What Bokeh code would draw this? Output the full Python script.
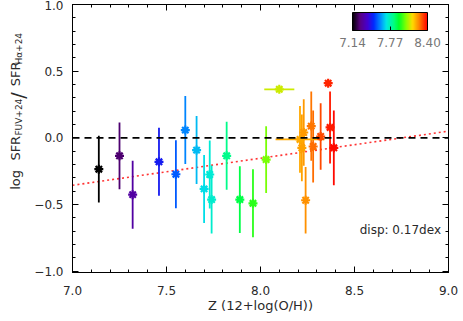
import math
import numpy as np
from bokeh.plotting import figure
from bokeh.layouts import row
from bokeh.models import (ColumnDataSource, LinearAxis, FixedTicker, Label, ColorBar,
                          LinearColorMapper, Span, PrintfTickFormatter, Range1d)
from bokeh.transform import linear_cmap
from bokeh.embed import file_html
from bokeh.resources import INLINE

# ---- data ----
metallicity = [7.14, 7.25, 7.32, 7.46, 7.55, 7.60, 7.66, 7.70, 7.73, 7.74, 7.82, 7.89, 7.96,
               8.03, 8.10, 8.21, 8.22, 8.23, 8.24, 8.27, 8.28, 8.32, 8.36, 8.37, 8.39]
log_ratio = [-0.235, -0.135, -0.426, -0.18, -0.273, 0.058, -0.092, -0.383, -0.275, -0.463,
             -0.135, -0.463, -0.491, -0.163, 0.364, -0.012, -0.075, 0.04, -0.468, 0.088,
             -0.065, 0.01, 0.41, 0.078, -0.075]
ratio_err = [0.25, 0.25, 0.255, 0.255, 0.255, 0.255, 0.255, 0.255, 0.255, 0.255,
             0.255, 0.25, 0.255, 0.25, 0.0, 0.25, 0.25, 0.25, 0.25, 0.26,
             0.27, 0.25, 0.0, 0.27, 0.28]
z_err = [0, 0, 0, 0, 0, 0, 0, 0, 0, 0, 0, 0, 0, 0, 0.08, 0.13, 0, 0, 0, 0, 0, 0, 0, 0, 0]
fit_z = [7.0, 9.0]
fit_ratio = [-0.356, 0.05]
x_ticks = [7.0, 7.5, 8.0, 8.5, 9.0]
x_tick_labels = ["7.0", "7.5", "8.0", "8.5", "9.0"]
y_ticks = [-1.0, -0.5, 0.0, 0.5, 1.0]
y_tick_labels = ["\u22121.0", "\u22120.5", "0.0", "0.5", "1.0"]
cbar_ticks = [7.14, 7.77, 8.40]
z_low, z_high = 7.14, 8.40
x_title = "Z (12+log(O/H))"
disp_text = "disp: 0.17dex"
# y title pieces: text, kind (main / sub / slash)
y_title_parts = [("log", "main"), ("SFR", "main"), ("FUV+24", "sub"), ("/", "slash"),
                 ("SFR", "main"), ("H\u03b1+24", "sub")]

# ---- colour table (black -> purple -> blue -> cyan -> green -> yellow -> red) ----
stops = [0.0, 0.1, 0.2, 0.28, 0.38, 0.45, 0.55, 0.62, 0.72, 0.8, 0.88, 1.0]
stop_rgb = [(0, 0, 0), (90, 0, 130), (70, 0, 210), (0, 40, 255), (0, 150, 255), (0, 230, 230),
            (0, 255, 130), (0, 255, 40), (140, 255, 0), (255, 220, 0), (255, 140, 0), (255, 0, 0)]
f = np.linspace(0, 1, 256)
chan = [np.interp(f, stops, [c[i] for c in stop_rgb]) for i in range(3)]
palette = ["#%02x%02x%02x" % (int(r), int(g), int(b)) for r, g, b in zip(*chan)]

src = ColumnDataSource(dict(
    z=metallicity, r=log_ratio,
    r_lo=[v - e for v, e in zip(log_ratio, ratio_err)],
    r_hi=[v + e for v, e in zip(log_ratio, ratio_err)],
    z_lo=[v - e for v, e in zip(metallicity, z_err)],
    z_hi=[v + e for v, e in zip(metallicity, z_err)],
))
cmap = linear_cmap("z", palette, z_low, z_high)

FONT = "DejaVu Sans"
TXT = "#2a2a2a"
LEFT_W = 30
W, H = 463, 321

p = figure(width=W - LEFT_W, height=H, x_range=(7.0, 9.0), y_range=(-1.01, 1.0),
           output_backend="svg", toolbar_location=None,
           min_border_left=72 - LEFT_W, min_border_right=15, min_border_top=4,
           min_border_bottom=49)
p.grid.visible = False
p.outline_line_color = "black"

def style_axis(ax, labels=True):
    ax.axis_line_color = "black"
    ax.major_tick_line_color = "black"
    ax.minor_tick_line_color = "black"
    ax.major_tick_in = 6
    ax.major_tick_out = 0
    ax.minor_tick_in = 3
    ax.minor_tick_out = 0
    ax.major_label_text_font = FONT
    ax.major_label_text_font_size = "12px"
    ax.major_label_text_color = TXT if labels else None

xt = FixedTicker(ticks=x_ticks, minor_ticks=list(np.round(np.arange(7.0, 9.01, 0.1), 2)))
yt = FixedTicker(ticks=y_ticks, minor_ticks=list(np.round(np.arange(-1.0, 1.01, 0.1), 2)))

p.xaxis.ticker = xt
p.yaxis.ticker = yt
style_axis(p.xaxis[0])
style_axis(p.yaxis[0])
p.xaxis.major_label_overrides = dict(zip(x_ticks, x_tick_labels))
p.yaxis.major_label_overrides = dict(zip(y_ticks, y_tick_labels))
p.xaxis.major_label_standoff = 13
p.yaxis.major_label_standoff = 9
p.xaxis.axis_label = x_title
p.xaxis.axis_label_text_font = FONT
p.xaxis.axis_label_text_font_size = "13px"
p.xaxis.axis_label_text_font_style = "normal"
p.xaxis.axis_label_text_color = TXT
p.xaxis.axis_label_standoff = 0

top = LinearAxis(ticker=xt)
style_axis(top, labels=False)
right = LinearAxis(ticker=yt)
style_axis(right, labels=False)
p.add_layout(top, "above")
p.add_layout(right, "right")

# reference lines
p.add_layout(Span(location=0, dimension="width", line_color="black",
                  line_dash="7 5", line_width=1.6))
p.line(fit_z, fit_ratio, line_color="#ff3333", line_dash="2 3", line_width=1.6)

# error bars and points
p.segment("z", "r_lo", "z", "r_hi", source=src, line_color=cmap, line_width=1.8)
p.segment("z_lo", "r", "z_hi", "r", source=src, line_color=cmap, line_width=1.8)
p.scatter("z", "r", source=src, marker="asterisk", size=9, line_width=2.2, line_color=cmap)

# dispersion text
p.add_layout(Label(x=8.96, y=-0.74, text=disp_text, text_align="right",
                   text_font=FONT, text_font_size="12px", text_color=TXT))

# colour bar
mapper = LinearColorMapper(palette=palette, low=z_low, high=z_high)
cb = ColorBar(color_mapper=mapper, orientation="horizontal", location=(280, 223),
              width=75, height=18, padding=0, ticker=FixedTicker(ticks=cbar_ticks),
              formatter=PrintfTickFormatter(format="%.2f"),
              major_label_text_font=FONT, major_label_text_font_size="12px",
              major_label_text_color="#777777", major_tick_line_color="black",
              major_tick_in=4, major_tick_out=0, bar_line_color="black",
              background_fill_alpha=0, border_line_color=None, label_standoff=7)
p.add_layout(cb, "center")

# ---- narrow side panel carrying the rotated y title (pixel space) ----
side = figure(width=LEFT_W, height=H, x_range=Range1d(0, LEFT_W), y_range=Range1d(H, 0),
              output_backend="svg", toolbar_location=None, min_border=0)
side.axis.visible = False
side.grid.visible = False
side.outline_line_color = None

# start position (pixels from top) of each piece along the rotated title
starts = [222, 187, 157, 113, 98, 72]
base_x = {"main": 15, "sub": 18, "slash": 17}
size = {"main": "13px", "sub": "9px", "slash": "19px"}
pieces = dict(
    x=[base_x[k] for _, k in y_title_parts],
    y=starts,
    text=[t for t, _ in y_title_parts],
    fs=[size[k] for _, k in y_title_parts],
)
side.text("x", "y", text="text", source=ColumnDataSource(pieces), angle=math.pi / 2,
          text_align="left", text_baseline="alphabetic", text_font_size="fs",
          text_color=TXT, text_font={"value": FONT})

layout = row(side, p, spacing=0)
open("out.html", "w").write(file_html(layout, INLINE))
